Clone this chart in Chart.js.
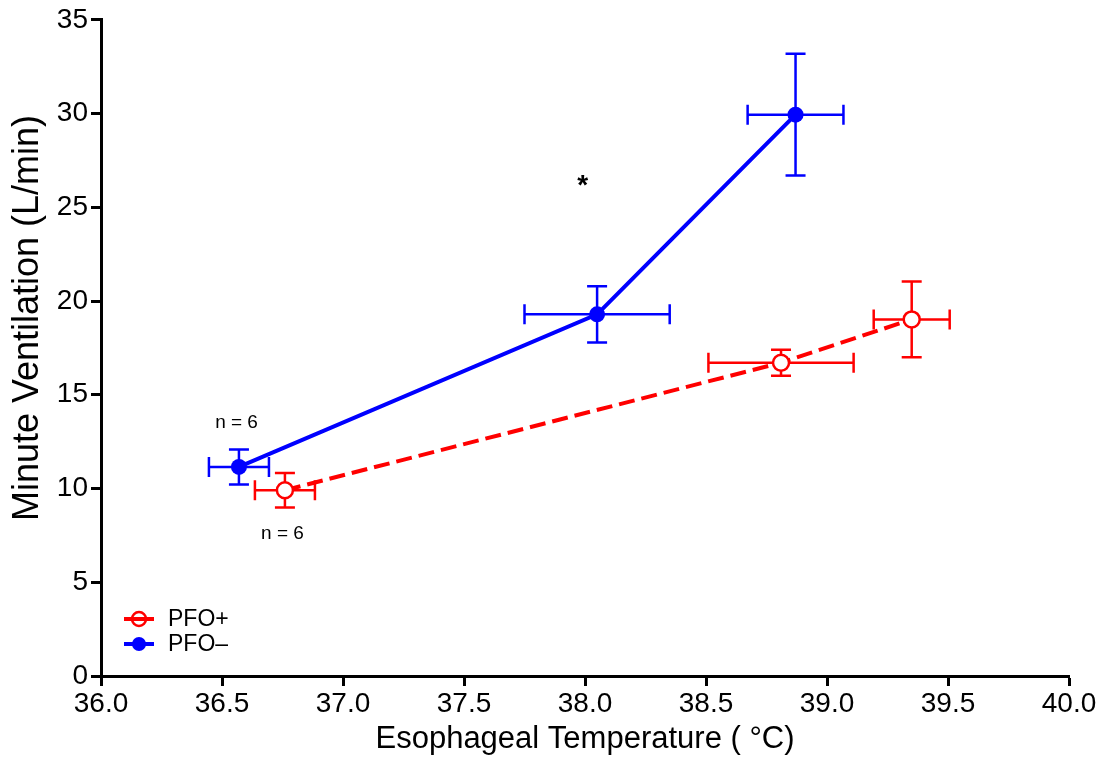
<!DOCTYPE html>
<html>
<head>
<meta charset="utf-8">
<script src="https://cdn.jsdelivr.net/npm/chart.js@4/dist/chart.umd.min.js"></script>
<style>
  html, body { margin: 0; padding: 0; background: #fff; }
  #wrap { width: 1105px; height: 763px; }
</style>
</head>
<body>
<div id="wrap"><canvas id="chart" width="1105" height="763"></canvas></div>
<script>
// esophageal temperature (°C) and minute ventilation (L/min), mean ± SD
const pfoPlusTemp = [36.76, 38.81, 39.35];
const pfoPlusTempErr = [0.124, 0.30, 0.157];
const pfoPlusVe = [9.91, 16.71, 19.02];
const pfoPlusVeErr = [0.92, 0.69, 2.02];

const pfoMinusTemp = [36.57, 38.05, 38.87];
const pfoMinusTempErr = [0.124, 0.30, 0.198];
const pfoMinusVe = [11.15, 19.29, 29.94];
const pfoMinusVeErr = [0.93, 1.50, 3.25];

const xTicks = ['36.0', '36.5', '37.0', '37.5', '38.0', '38.5', '39.0', '39.5', '40.0'];
const yTicks = ['0', '5', '10', '15', '20', '25', '30', '35'];

const notes = [
    { text: 'n = 6', x: 36.56, y: 13.5, size: 19, bold: false },
    { text: 'n = 6', x: 36.75, y: 7.57, size: 19, bold: false },
    { text: '*', x: 37.99, y: 26.1, size: 28, bold: true }
];

const RED = '#ff0000';
const BLUE = '#0000ff';
const FONT = '"Liberation Sans", Arial, sans-serif';

const toPoints = (xs, ys) => xs.map((x, i) => ({ x, y: ys[i] }));

const errorBars = {
    id: 'errorBars',
    beforeDatasetsDraw(chart) {
        const { ctx, scales: { x, y } } = chart;
        const groups = [
            { xs: pfoPlusTemp, xe: pfoPlusTempErr, ys: pfoPlusVe, ye: pfoPlusVeErr, color: RED },
            { xs: pfoMinusTemp, xe: pfoMinusTempErr, ys: pfoMinusVe, ye: pfoMinusVeErr, color: BLUE }
        ];
        const cap = 10;
        ctx.save();
        ctx.lineWidth = 2.5;
        groups.forEach(g => {
            ctx.strokeStyle = g.color;
            g.xs.forEach((xv, i) => {
                const px = x.getPixelForValue(xv);
                const py = y.getPixelForValue(g.ys[i]);
                const x0 = x.getPixelForValue(xv - g.xe[i]);
                const x1 = x.getPixelForValue(xv + g.xe[i]);
                const y0 = y.getPixelForValue(g.ys[i] - g.ye[i]);
                const y1 = y.getPixelForValue(g.ys[i] + g.ye[i]);
                ctx.beginPath();
                ctx.moveTo(x0, py); ctx.lineTo(x1, py);
                ctx.moveTo(x0, py - cap); ctx.lineTo(x0, py + cap);
                ctx.moveTo(x1, py - cap); ctx.lineTo(x1, py + cap);
                ctx.moveTo(px, y0); ctx.lineTo(px, y1);
                ctx.moveTo(px - cap, y0); ctx.lineTo(px + cap, y0);
                ctx.moveTo(px - cap, y1); ctx.lineTo(px + cap, y1);
                ctx.stroke();
            });
        });
        ctx.restore();
    },
    afterDatasetsDraw(chart) {
        const { ctx, scales: { x, y } } = chart;
        ctx.save();
        ctx.fillStyle = '#000';
        ctx.textAlign = 'center';
        ctx.textBaseline = 'middle';
        notes.forEach(n => {
            ctx.font = `${n.bold ? 'bold ' : ''}${n.size}px ${FONT}`;
            ctx.fillText(n.text, x.getPixelForValue(n.x), y.getPixelForValue(n.y));
        });

        // y axis title, sits a little above the middle of the axis
        ctx.save();
        ctx.translate(28, 318);
        ctx.rotate(-Math.PI / 2);
        ctx.font = `36px ${FONT}`;
        ctx.fillText('Minute Ventilation (L/min)', 0, 0);
        ctx.restore();

        // legend, bottom-left inside the plot
        const items = [
            { label: 'PFO+', color: RED, open: true },
            { label: 'PFO\u2013', color: BLUE, open: false }
        ];
        const lx = chart.chartArea.left + 38;
        let ly = chart.chartArea.bottom - 57;
        items.forEach(it => {
            ctx.strokeStyle = it.color;
            ctx.lineWidth = 4;
            ctx.beginPath();
            ctx.moveTo(lx - 15, ly); ctx.lineTo(lx + 15, ly);
            ctx.stroke();
            ctx.beginPath();
            ctx.arc(lx, ly, 7, 0, Math.PI * 2);
            if (it.open) {
                ctx.lineWidth = 2.5;
                ctx.stroke();
                ctx.beginPath();
                ctx.moveTo(lx - 15, ly); ctx.lineTo(lx + 15, ly);
                ctx.lineWidth = 3;
                ctx.stroke();
            } else {
                ctx.fillStyle = it.color;
                ctx.fill();
            }
            ctx.fillStyle = '#000';
            ctx.textAlign = 'left';
            ctx.font = `23px ${FONT}`;
            ctx.fillText(it.label, lx + 29, ly + 1);
            ly += 25;
        });
        ctx.restore();
    }
};

new Chart(document.getElementById('chart'), {
    type: 'scatter',
    data: {
        datasets: [
            {
                label: 'PFO+',
                data: toPoints(pfoPlusTemp, pfoPlusVe),
                showLine: true,
                borderColor: RED,
                borderWidth: 4,
                borderDash: [16, 7],
                pointRadius: 8,
                pointBorderWidth: 2.5,
                pointBackgroundColor: '#fff',
                pointBorderColor: RED
            },
            {
                label: 'PFO\u2013',
                data: toPoints(pfoMinusTemp, pfoMinusVe),
                showLine: true,
                borderColor: BLUE,
                borderWidth: 4,
                pointRadius: 8,
                pointBorderWidth: 0,
                pointBackgroundColor: BLUE,
                pointBorderColor: BLUE
            }
        ]
    },
    options: {
        responsive: false,
        animation: false,
        layout: { padding: { top: 19, right: 36, left: 0, bottom: 0 } },
        plugins: { legend: { display: false }, tooltip: { enabled: false } },
        scales: {
            x: {
                type: 'linear',
                min: 36,
                max: 40,
                afterFit: s => { s.height = 87; },
                afterBuildTicks: s => { s.ticks = xTicks.map(v => ({ value: parseFloat(v) })); },
                ticks: {
                    callback: v => v.toFixed(1),
                    color: '#000',
                    font: { family: FONT, size: 28 },
                    padding: 1,
                    maxRotation: 0,
                    autoSkip: false
                },
                grid: { drawOnChartArea: false, drawTicks: true, tickLength: 10, tickWidth: 3, tickColor: '#000' },
                border: { display: true, color: '#000', width: 3 },
                title: {
                    display: true,
                    text: 'Esophageal Temperature ( \u00b0C)',
                    color: '#000',
                    font: { family: FONT, size: 31 },
                    padding: { top: 0, bottom: 5 }
                }
            },
            y: {
                type: 'linear',
                min: 0,
                max: 35,
                afterFit: s => { s.width = 101; },
                afterBuildTicks: s => { s.ticks = yTicks.map(v => ({ value: parseFloat(v) })); },
                ticks: {
                    color: '#000',
                    font: { family: FONT, size: 28 },
                    padding: 3
                },
                grid: { drawOnChartArea: false, drawTicks: true, tickLength: 10, tickWidth: 3, tickColor: '#000' },
                border: { display: true, color: '#000', width: 3 },
                title: { display: false }
            }
        }
    },
    plugins: [errorBars]
});
</script>
</body>
</html>
